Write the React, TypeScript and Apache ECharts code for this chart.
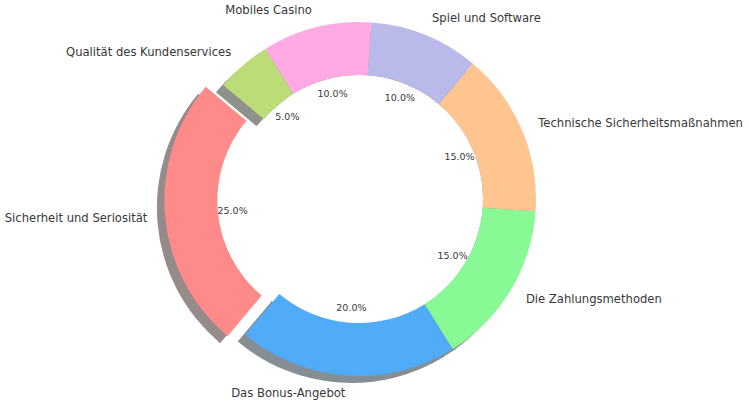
import React, { useEffect, useRef } from "react";
import * as echarts from "echarts";

const categories = [
  "Sicherheit und Seriosität",
  "Das Bonus-Angebot",
  "Die Zahlungsmethoden",
  "Technische Sicherheitsmaßnahmen",
  "Spiel und Software",
  "Mobiles Casino",
  "Qualität des Kundenservices",
];
const values = [25, 20, 15, 15, 10, 10, 5];
const explode = [true, false, false, false, false, false, false];

const colors = ["#ff8a8a", "#50abf8", "#88f995", "#ffc591", "#b9b9ea", "#ffaae2", "#bcdc78"];

const CX = 359;
const CY = 199;
const R = 177;
const R0 = 124;
const SHADOW_DX = -7.5;
const SHADOW_DY = 7;
const LABEL_SIZE = 11.6;
const PCT_SIZE = 9.5;
const TEXT_COLOR = "#383838";

function shade(hex: string): string {
  const n = parseInt(hex.slice(1), 16);
  const c = [(n >> 16) & 255, (n >> 8) & 255, n & 255].map((v) =>
    Math.round(0.5 * 0.17 * v + 0.5 * 255)
  );
  return `rgb(${c[0]},${c[1]},${c[2]})`;
}

const FONT = "DejaVu Sans";

export default function App() {
  const ref = useRef<HTMLDivElement>(null);
  useEffect(() => {
    if (!ref.current) return;
    const chart = echarts.init(ref.current, null, { renderer: "svg" });
    const base = {
      type: "pie" as const,
      startAngle: 140,
      clockwise: false,
      selectedMode: "multiple" as const,
      selectedOffset: R * 0.1,
      avoidLabelOverlap: false,
      emphasis: { disabled: true },
      animation: false,
    };
    chart.setOption({
      animation: false,
      backgroundColor: "#ffffff",
      series: [
        {
          ...base,
          name: "shadow",
          silent: true,
          z: 1,
          center: [CX + SHADOW_DX, CY + SHADOW_DY],
          radius: [R0, R],
          label: { show: false },
          labelLine: { show: false },
          select: { itemStyle: { borderWidth: 0 } },
          data: categories.map((name, i) => ({
            name,
            value: values[i],
            selected: explode[i],
            itemStyle: { color: shade(colors[i]), borderWidth: 0 },
          })),
        },
        {
          type: "pie",
          name: "hole",
          silent: true,
          z: 2,
          center: [CX, CY],
          radius: [0, R0],
          label: { show: false },
          labelLine: { show: false },
          emphasis: { disabled: true },
          data: [{ name: "hole", value: 1, itemStyle: { color: "#ffffff", borderWidth: 0 } }],
        },
        {
          ...base,
          name: "main",
          silent: true,
          z: 3,
          center: [CX, CY],
          radius: [R0, R],
          label: {
            show: true,
            position: "outside",
            color: TEXT_COLOR,
            fontFamily: FONT,
            fontSize: LABEL_SIZE,
            distanceToLabelLine: 0,
            formatter: "{b}",
          },
          labelLine: { show: false, length: R * 0.1, length2: 0 },
          select: {
            itemStyle: { borderWidth: 0 },
            label: { color: TEXT_COLOR, fontSize: LABEL_SIZE, fontFamily: FONT },
          },
          data: categories.map((name, i) => ({
            name,
            value: values[i],
            selected: explode[i],
            itemStyle: { color: colors[i], borderWidth: 0 },
          })),
        },
        {
          ...base,
          name: "pct",
          silent: true,
          z: 4,
          center: [CX, CY],
          radius: [0, R * 1.2],
          label: {
            show: true,
            position: "inside",
            color: TEXT_COLOR,
            fontFamily: FONT,
            fontSize: PCT_SIZE,
            formatter: (p: any) => `${Number(p.percent).toFixed(1)}%`,
          },
          labelLine: { show: false },
          select: {
            itemStyle: { borderWidth: 0, color: "rgba(0,0,0,0)" },
            label: { color: TEXT_COLOR, fontSize: PCT_SIZE, fontFamily: FONT },
          },
          data: categories.map((name, i) => ({
            name,
            value: values[i],
            selected: explode[i],
            itemStyle: { color: "rgba(0,0,0,0)", borderWidth: 0 },
          })),
        },
      ],
    });
    return () => chart.dispose();
  }, []);
  return (
    <div
      ref={ref}
      style={{ position: "fixed", left: 0, top: 0, width: 749, height: 404, background: "#fff" }}
    />
  );
}
